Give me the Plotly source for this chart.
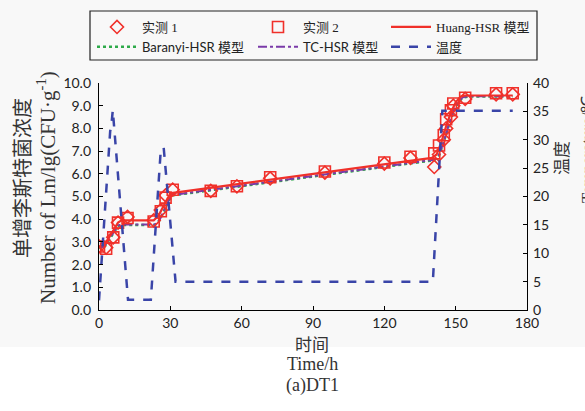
import plotly.graph_objects as go

# Sampling times (h) and observed Lm counts (lg CFU/g)
obs_time = [0, 3, 6, 8, 12, 23, 26, 28, 31, 47, 58, 72, 95, 120, 131,
            141, 143, 145, 146, 148, 149, 154, 167, 174]
obs_1 = [2.8, 2.75, 3.2, 3.85, 4.1, 3.95, 4.4, 5.05, 5.3, 5.25, 5.45, 5.8, 6.05,
         6.45, 6.7, 6.3, 6.85, 7.5, 8.0, 8.5, 9.0, 9.3, 9.5, 9.5]
obs_2 = [2.8, 2.7, 3.2, 3.85, 4.05, 3.9, 4.35, 4.95, 5.3, 5.25, 5.45, 5.85, 6.1,
         6.5, 6.75, 6.9, 7.25, 7.7, 8.4, 8.8, 9.1, 9.35, 9.55, 9.55]

# Model predictions
huang_t = [0, 2, 4, 6, 8, 9.5, 23, 25, 27, 29, 30.5, 140, 142, 144, 146, 148, 150, 152, 154, 174]
huang_y = [2.8, 2.85, 3.15, 3.5, 3.85, 3.95, 3.95, 4.15, 4.55, 4.95, 5.15, 6.7, 6.85,
           7.4, 8.1, 8.7, 9.15, 9.4, 9.45, 9.45]
baranyi_t = [0, 2, 4, 6, 8, 9.5, 23.5, 25.5, 27.5, 29.5, 31, 141, 143, 145, 147, 149, 151, 153, 155, 174]
baranyi_y = [2.75, 2.75, 3.05, 3.4, 3.7, 3.75, 3.75, 3.95, 4.4, 4.85, 5.05, 6.6, 6.8,
             7.4, 8.1, 8.7, 9.15, 9.35, 9.4, 9.4]
tc_t = [0, 2, 4, 6, 8, 9.5, 23.5, 25.5, 27.5, 29.5, 31, 141, 143, 145, 147, 149, 151, 153, 155, 174]
tc_y = [2.78, 2.78, 3.08, 3.43, 3.72, 3.77, 3.77, 3.97, 4.42, 4.87, 5.07, 6.62, 6.82,
        7.42, 8.12, 8.72, 9.17, 9.37, 9.42, 9.42]

# Temperature profile (°C)
temp_t = [0, 4.7, 5.2, 5.8, 12.2, 21.8, 26.0, 27.2, 32.2, 140.4, 144.4, 174]
temp_v = [1.7, 31.5, 32.5, 35.2, 1.8, 1.8, 28.3, 28.6, 5.0, 5.0, 35.1, 35.1]

x_ticks = [0, 30, 60, 90, 120, 150, 180]

RED = "#f0302a"
GREEN = "#2eaa4a"
PURPLE = "#7a3aa8"
BLUE = "#3a45a8"
SERIF = "Liberation Serif, Noto Sans CJK SC"

# plot area in pixels
L, R, T, B = 99, 527, 83, 310
W, H = 585, 411


def px(x):
    return (x - L) / (R - L)


def py(y):
    return (B - y) / (B - T)


fig = go.Figure()
fig.add_trace(go.Scatter(x=baranyi_t, y=baranyi_y, mode="lines",
                         name='<span style="font-family:Lato">Baranyi-HSR</span> 模型',
                         line=dict(color=GREEN, width=2.5, dash="dot"), legend="legend"))
fig.add_trace(go.Scatter(x=tc_t, y=tc_y, mode="lines",
                         name='<span style="font-family:Lato">TC-HSR</span> 模型',
                         line=dict(color=PURPLE, width=2, dash="dashdot"), legend="legend2"))
fig.add_trace(go.Scatter(x=huang_t, y=huang_y, mode="lines", name="Huang-HSR 模型",
                         line=dict(color=RED, width=2.2), legend="legend3"))
fig.add_trace(go.Scatter(x=temp_t, y=temp_v, mode="lines", name="温度", yaxis="y2",
                         line=dict(color=BLUE, width=2.5, dash="dash"), legend="legend3"))
fig.add_trace(go.Scatter(x=obs_time, y=obs_1, mode="markers", name="实测 1",
                         marker=dict(symbol="diamond-open", size=10, color=RED, line=dict(width=1.6)),
                         legend="legend"))
fig.add_trace(go.Scatter(x=obs_time, y=obs_2, mode="markers", name="实测 2",
                         marker=dict(symbol="square-open", size=11, color=RED, line=dict(width=1.6)),
                         legend="legend2"))

axis_common = dict(showline=True, linecolor="black", linewidth=1.3, ticks="inside",
                   ticklen=4, tickcolor="black", showgrid=False, zeroline=False,
                   tickfont=dict(family="Lato", size=14, color="#222"))

fig.update_layout(
    width=W, height=H,
    margin=dict(l=L, r=W - R, t=T, b=H - B),
    paper_bgcolor="white", plot_bgcolor="rgba(0,0,0,0)",
    xaxis=dict(range=[0, 180], tickvals=x_ticks, ticklabelstandoff=0, **axis_common),
    yaxis=dict(range=[0, 10], dtick=1, tickformat=".1f", ticklabelstandoff=4, **axis_common),
    yaxis2=dict(range=[0, 40], dtick=5, overlaying="y", side="right", ticklabelstandoff=2, **axis_common),
    showlegend=True,
)

leg_common = dict(orientation="v", yanchor="top", xanchor="left", bgcolor="rgba(0,0,0,0)",
                  borderwidth=0, font=dict(family=SERIF, size=13, color="#222"),
                  tracegroupgap=0, itemwidth=40)
fig.update_layout(
    legend=dict(x=px(92), y=py(12), traceorder="reversed", **leg_common),
    legend2=dict(x=px(253), y=py(12), traceorder="reversed", **leg_common),
    legend3=dict(x=px(386), y=py(12), traceorder="normal", **leg_common),
)

shapes = [
    # faint grey backdrop behind the chart block
    dict(type="rect", xref="paper", yref="paper", x0=px(0), x1=px(W), y0=py(347), y1=py(0),
         fillcolor="#f8f8f8", line=dict(width=0), layer="below"),
    # legend frame
    dict(type="rect", xref="paper", yref="paper", x0=px(90), x1=px(537), y0=py(60), y1=py(11),
         fillcolor="rgba(0,0,0,0)", line=dict(color="#222", width=1.2)),
]
fig.update_layout(shapes=shapes)

annotations = [
    dict(text="单增李斯特菌浓度", x=px(21), y=py(178), font=dict(family="Noto Sans CJK SC", size=20, color="#333")),
    dict(text="Number of Lm/lg(CFU·g<sup>-1</sup>)", x=px(46), y=py(188),
         font=dict(family="Liberation Serif", size=21, color="#333")),
    dict(text="温度", x=px(560), y=py(158), font=dict(family="Noto Sans CJK SC", size=17, color="#333")),
    dict(text="Temperature/℃", x=px(587), y=py(150), font=dict(family="Liberation Serif", size=17, color="#333")),
]
for a in annotations:
    a.update(xref="paper", yref="paper", showarrow=False, textangle=-90,
             xanchor="center", yanchor="middle")
bottom = [
    dict(text="时间", x=px(312), y=py(343), font=dict(family="Noto Sans CJK SC", size=17, color="#333")),
    dict(text="Time/h", x=px(312), y=py(364), font=dict(family="Liberation Serif", size=18, color="#333")),
    dict(text="(a)DT1", x=px(312), y=py(385), font=dict(family="Liberation Serif", size=18, color="#333")),
]
for a in bottom:
    a.update(xref="paper", yref="paper", showarrow=False, xanchor="center", yanchor="middle")
fig.update_layout(annotations=annotations + bottom)

fig.write_html("out.html")
